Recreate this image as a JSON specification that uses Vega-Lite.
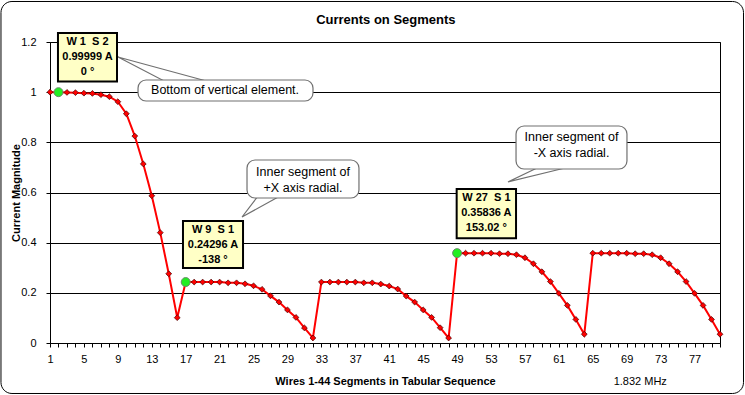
{
  "$schema": "https://vega.github.io/schema/vega-lite/v6.json",
  "width": 670,
  "height": 301,
  "autosize": {"type": "none"},
  "padding": {"left": 50, "top": 42, "right": 25, "bottom": 52},
  "background": "white",
  "config": {
    "font": "Liberation Sans",
    "view": {"stroke": "black", "strokeWidth": 1},
    "axis": {"labelColor": "black", "labelFontSize": 11, "titleColor": "black", "titleFontSize": 11, "titleFontWeight": "bold", "domainColor": "black", "tickColor": "black", "tickSize": 4}
  },
  "datasets": {
    "currents": [
      {"seg": 1, "amp": 1.0}, {"seg": 2, "amp": 0.99999}, {"seg": 3, "amp": 0.999}, {"seg": 4, "amp": 0.998},
      {"seg": 5, "amp": 0.996}, {"seg": 6, "amp": 0.995}, {"seg": 7, "amp": 0.99}, {"seg": 8, "amp": 0.982},
      {"seg": 9, "amp": 0.962}, {"seg": 10, "amp": 0.914}, {"seg": 11, "amp": 0.825}, {"seg": 12, "amp": 0.714},
      {"seg": 13, "amp": 0.587}, {"seg": 14, "amp": 0.44}, {"seg": 15, "amp": 0.276}, {"seg": 16, "amp": 0.101},
      {"seg": 17, "amp": 0.24296}, {"seg": 18, "amp": 0.243}, {"seg": 19, "amp": 0.243}, {"seg": 20, "amp": 0.243},
      {"seg": 21, "amp": 0.243}, {"seg": 22, "amp": 0.24}, {"seg": 23, "amp": 0.24}, {"seg": 24, "amp": 0.236},
      {"seg": 25, "amp": 0.228}, {"seg": 26, "amp": 0.214}, {"seg": 27, "amp": 0.188}, {"seg": 28, "amp": 0.163},
      {"seg": 29, "amp": 0.132}, {"seg": 30, "amp": 0.102}, {"seg": 31, "amp": 0.06}, {"seg": 32, "amp": 0.02},
      {"seg": 33, "amp": 0.243}, {"seg": 34, "amp": 0.243}, {"seg": 35, "amp": 0.243}, {"seg": 36, "amp": 0.243},
      {"seg": 37, "amp": 0.243}, {"seg": 38, "amp": 0.24}, {"seg": 39, "amp": 0.24}, {"seg": 40, "amp": 0.235},
      {"seg": 41, "amp": 0.227}, {"seg": 42, "amp": 0.215}, {"seg": 43, "amp": 0.187}, {"seg": 44, "amp": 0.163},
      {"seg": 45, "amp": 0.132}, {"seg": 46, "amp": 0.102}, {"seg": 47, "amp": 0.061}, {"seg": 48, "amp": 0.02},
      {"seg": 49, "amp": 0.35836}, {"seg": 50, "amp": 0.358}, {"seg": 51, "amp": 0.358}, {"seg": 52, "amp": 0.358},
      {"seg": 53, "amp": 0.358}, {"seg": 54, "amp": 0.356}, {"seg": 55, "amp": 0.356}, {"seg": 56, "amp": 0.352},
      {"seg": 57, "amp": 0.34}, {"seg": 58, "amp": 0.316}, {"seg": 59, "amp": 0.284}, {"seg": 60, "amp": 0.245},
      {"seg": 61, "amp": 0.198}, {"seg": 62, "amp": 0.15}, {"seg": 63, "amp": 0.094}, {"seg": 64, "amp": 0.035},
      {"seg": 65, "amp": 0.358}, {"seg": 66, "amp": 0.358}, {"seg": 67, "amp": 0.358}, {"seg": 68, "amp": 0.358},
      {"seg": 69, "amp": 0.358}, {"seg": 70, "amp": 0.356}, {"seg": 71, "amp": 0.356}, {"seg": 72, "amp": 0.352},
      {"seg": 73, "amp": 0.34}, {"seg": 74, "amp": 0.316}, {"seg": 75, "amp": 0.284}, {"seg": 76, "amp": 0.245},
      {"seg": 77, "amp": 0.198}, {"seg": 78, "amp": 0.15}, {"seg": 79, "amp": 0.094}, {"seg": 80, "amp": 0.035}
    ],
    "marked": [
      {"seg": 2, "amp": 0.99999}, {"seg": 17, "amp": 0.24296}, {"seg": 49, "amp": 0.35836}
    ],
    "tails": [
      {"id": 1, "ty": 1.1402, "tx": 9.02, "tx2": 9.02},
      {"id": 1, "ty": 1.0405, "tx": 14.68, "tx2": 19.87},
      {"id": 2, "ty": 0.5023, "tx": 23.64, "tx2": 23.64},
      {"id": 2, "ty": 0.5861, "tx": 25.53, "tx2": 28.12},
      {"id": 3, "ty": 0.6419, "tx": 55.0, "tx2": 55.0},
      {"id": 3, "ty": 0.6977, "tx": 58.42, "tx2": 61.72}
    ],
    "bubbles": [
      {"x1": 11.38, "x2": 32.01, "y1": 1.0485, "y2": 0.9648, "cx": 21.64, "cy": 1.0067, "label": "Bottom of vertical element."},
      {"x1": 24.23, "x2": 37.43, "y1": 0.7296, "y2": 0.5781, "cx": 30.83, "cy": 0.6829, "label": "Inner segment of\n+X axis radial."},
      {"x1": 55.95, "x2": 69.03, "y1": 0.8651, "y2": 0.6937, "cx": 62.49, "cy": 0.8213, "label": "Inner segment of\n-X axis radial."}
    ],
    "boxes": [
      {"x1": 1.94, "x2": 8.9, "y1": 1.2359, "y2": 1.0425, "cx": 5.42, "cy": 1.2, "label": "W 1\u00a0\u00a0S 2\n0.99999 A\n0 °"},
      {"x1": 16.68, "x2": 23.76, "y1": 0.4864, "y2": 0.299, "cx": 20.22, "cy": 0.4505, "label": "W 9\u00a0\u00a0S 1\n0.24296 A\n-138 °"},
      {"x1": 48.95, "x2": 55.95, "y1": 0.614, "y2": 0.4174, "cx": 52.45, "cy": 0.5781, "label": "W 27\u00a0\u00a0S 1\n0.35836 A\n153.02 °"}
    ],
    "notes": [
      {"nx": 70.6, "ny": -0.1555, "label": "1.832 MHz"}
    ],
    "titles": [
      {"tx": 40.6, "ty": 1.2877, "label": "Currents on Segments"}
    ],
    "frame": [
      {"fx1": -4.78, "fx2": 82.77, "fy1": 1.3615, "fy2": -0.2013}
    ]
  },
  "layer": [
    {
      "data": {"name": "currents"},
      "mark": {"type": "line", "color": "#ff0000", "strokeWidth": 2},
      "encoding": {
        "x": {"field": "seg", "type": "quantitative", "scale": {"domain": [1, 80], "nice": false, "zero": false},
          "axis": {"title": "Wires 1-44 Segments in Tabular Sequence", "tickCount": 80, "format": "d",
            "labelExpr": "(datum.value - 1) % 4 == 0 ? datum.label : ''", "labelFlush": false, "labelOverlap": false,
            "grid": false, "labelPadding": 6, "titlePadding": 11}},
        "y": {"field": "amp", "type": "quantitative", "scale": {"domain": [0, 1.2], "nice": false},
          "axis": {"title": "Current Magnitude", "values": [0, 0.2, 0.4, 0.6, 0.8, 1, 1.2], "format": "~g",
            "grid": true, "gridColor": "black", "gridOpacity": 1, "gridWidth": 1, "labelFlush": false,
            "labelPadding": 10, "titlePadding": -1}}
      }
    },
    {
      "data": {"name": "currents"},
      "mark": {"type": "point", "shape": "diamond", "filled": true, "fill": "#ff0000", "stroke": "#400000", "strokeWidth": 0.7, "size": 34, "opacity": 1},
      "encoding": {
        "x": {"field": "seg", "type": "quantitative", "scale": {"domain": [1, 80], "nice": false, "zero": false}},
        "y": {"field": "amp", "type": "quantitative", "scale": {"domain": [0, 1.2], "nice": false}}
      }
    },
    {
      "data": {"name": "marked"},
      "mark": {"type": "point", "shape": "circle", "filled": true, "fill": "#22ee22", "stroke": "#6a8a6a", "strokeWidth": 1, "size": 80, "opacity": 1},
      "encoding": {
        "x": {"field": "seg", "type": "quantitative", "scale": {"domain": [1, 80], "nice": false, "zero": false}},
        "y": {"field": "amp", "type": "quantitative", "scale": {"domain": [0, 1.2], "nice": false}}
      }
    },
    {
      "data": {"name": "tails"},
      "mark": {"type": "area", "orient": "horizontal", "fill": "white", "stroke": "#707070", "strokeWidth": 1.2, "clip": false},
      "encoding": {
        "y": {"field": "ty", "type": "quantitative", "scale": {"domain": [0, 1.2], "nice": false}},
        "x": {"field": "tx", "type": "quantitative", "stack": null, "scale": {"domain": [1, 80], "nice": false, "zero": false}},
        "x2": {"field": "tx2"},
        "detail": {"field": "id", "type": "nominal"}
      }
    },
    {
      "data": {"name": "bubbles"},
      "mark": {"type": "rect", "fill": "white", "stroke": "#707070", "strokeWidth": 1.2, "cornerRadius": 8, "clip": false},
      "encoding": {
        "x": {"field": "x1", "type": "quantitative", "scale": {"domain": [1, 80], "nice": false, "zero": false}},
        "x2": {"field": "x2"},
        "y": {"field": "y1", "type": "quantitative", "scale": {"domain": [0, 1.2], "nice": false}},
        "y2": {"field": "y2"}
      }
    },
    {
      "data": {"name": "bubbles"},
      "mark": {"type": "text", "fontSize": 12.5, "color": "black", "align": "center", "baseline": "middle", "lineBreak": "\n", "lineHeight": 16, "clip": false},
      "encoding": {
        "x": {"field": "cx", "type": "quantitative", "scale": {"domain": [1, 80], "nice": false, "zero": false}},
        "y": {"field": "cy", "type": "quantitative", "scale": {"domain": [0, 1.2], "nice": false}},
        "text": {"field": "label"}
      }
    },
    {
      "data": {"name": "boxes"},
      "mark": {"type": "rect", "fill": "#ffffc6", "stroke": "black", "strokeWidth": 2, "clip": false},
      "encoding": {
        "x": {"field": "x1", "type": "quantitative", "scale": {"domain": [1, 80], "nice": false, "zero": false}},
        "x2": {"field": "x2"},
        "y": {"field": "y1", "type": "quantitative", "scale": {"domain": [0, 1.2], "nice": false}},
        "y2": {"field": "y2"}
      }
    },
    {
      "data": {"name": "boxes"},
      "mark": {"type": "text", "fontSize": 11, "fontWeight": "bold", "color": "black", "align": "center", "baseline": "middle", "lineBreak": "\n", "lineHeight": 15, "clip": false},
      "encoding": {
        "x": {"field": "cx", "type": "quantitative", "scale": {"domain": [1, 80], "nice": false, "zero": false}},
        "y": {"field": "cy", "type": "quantitative", "scale": {"domain": [0, 1.2], "nice": false}},
        "text": {"field": "label"}
      }
    },
    {
      "data": {"name": "notes"},
      "mark": {"type": "text", "fontSize": 11, "color": "black", "align": "center", "baseline": "middle", "clip": false},
      "encoding": {
        "x": {"field": "nx", "type": "quantitative", "scale": {"domain": [1, 80], "nice": false, "zero": false}},
        "y": {"field": "ny", "type": "quantitative", "scale": {"domain": [0, 1.2], "nice": false}},
        "text": {"field": "label"}
      }
    },
    {
      "data": {"name": "titles"},
      "mark": {"type": "text", "fontSize": 13, "fontWeight": "bold", "color": "black", "align": "center", "baseline": "middle", "clip": false},
      "encoding": {
        "x": {"field": "tx", "type": "quantitative", "scale": {"domain": [1, 80], "nice": false, "zero": false}},
        "y": {"field": "ty", "type": "quantitative", "scale": {"domain": [0, 1.2], "nice": false}},
        "text": {"field": "label"}
      }
    },
    {
      "data": {"name": "frame"},
      "mark": {"type": "rect", "fill": null, "filled": false, "stroke": "black", "strokeWidth": 1, "cornerRadius": 11, "clip": false},
      "encoding": {
        "x": {"field": "fx1", "type": "quantitative", "scale": {"domain": [1, 80], "nice": false, "zero": false}},
        "x2": {"field": "fx2"},
        "y": {"field": "fy1", "type": "quantitative", "scale": {"domain": [0, 1.2], "nice": false}},
        "y2": {"field": "fy2"}
      }
    }
  ]
}
